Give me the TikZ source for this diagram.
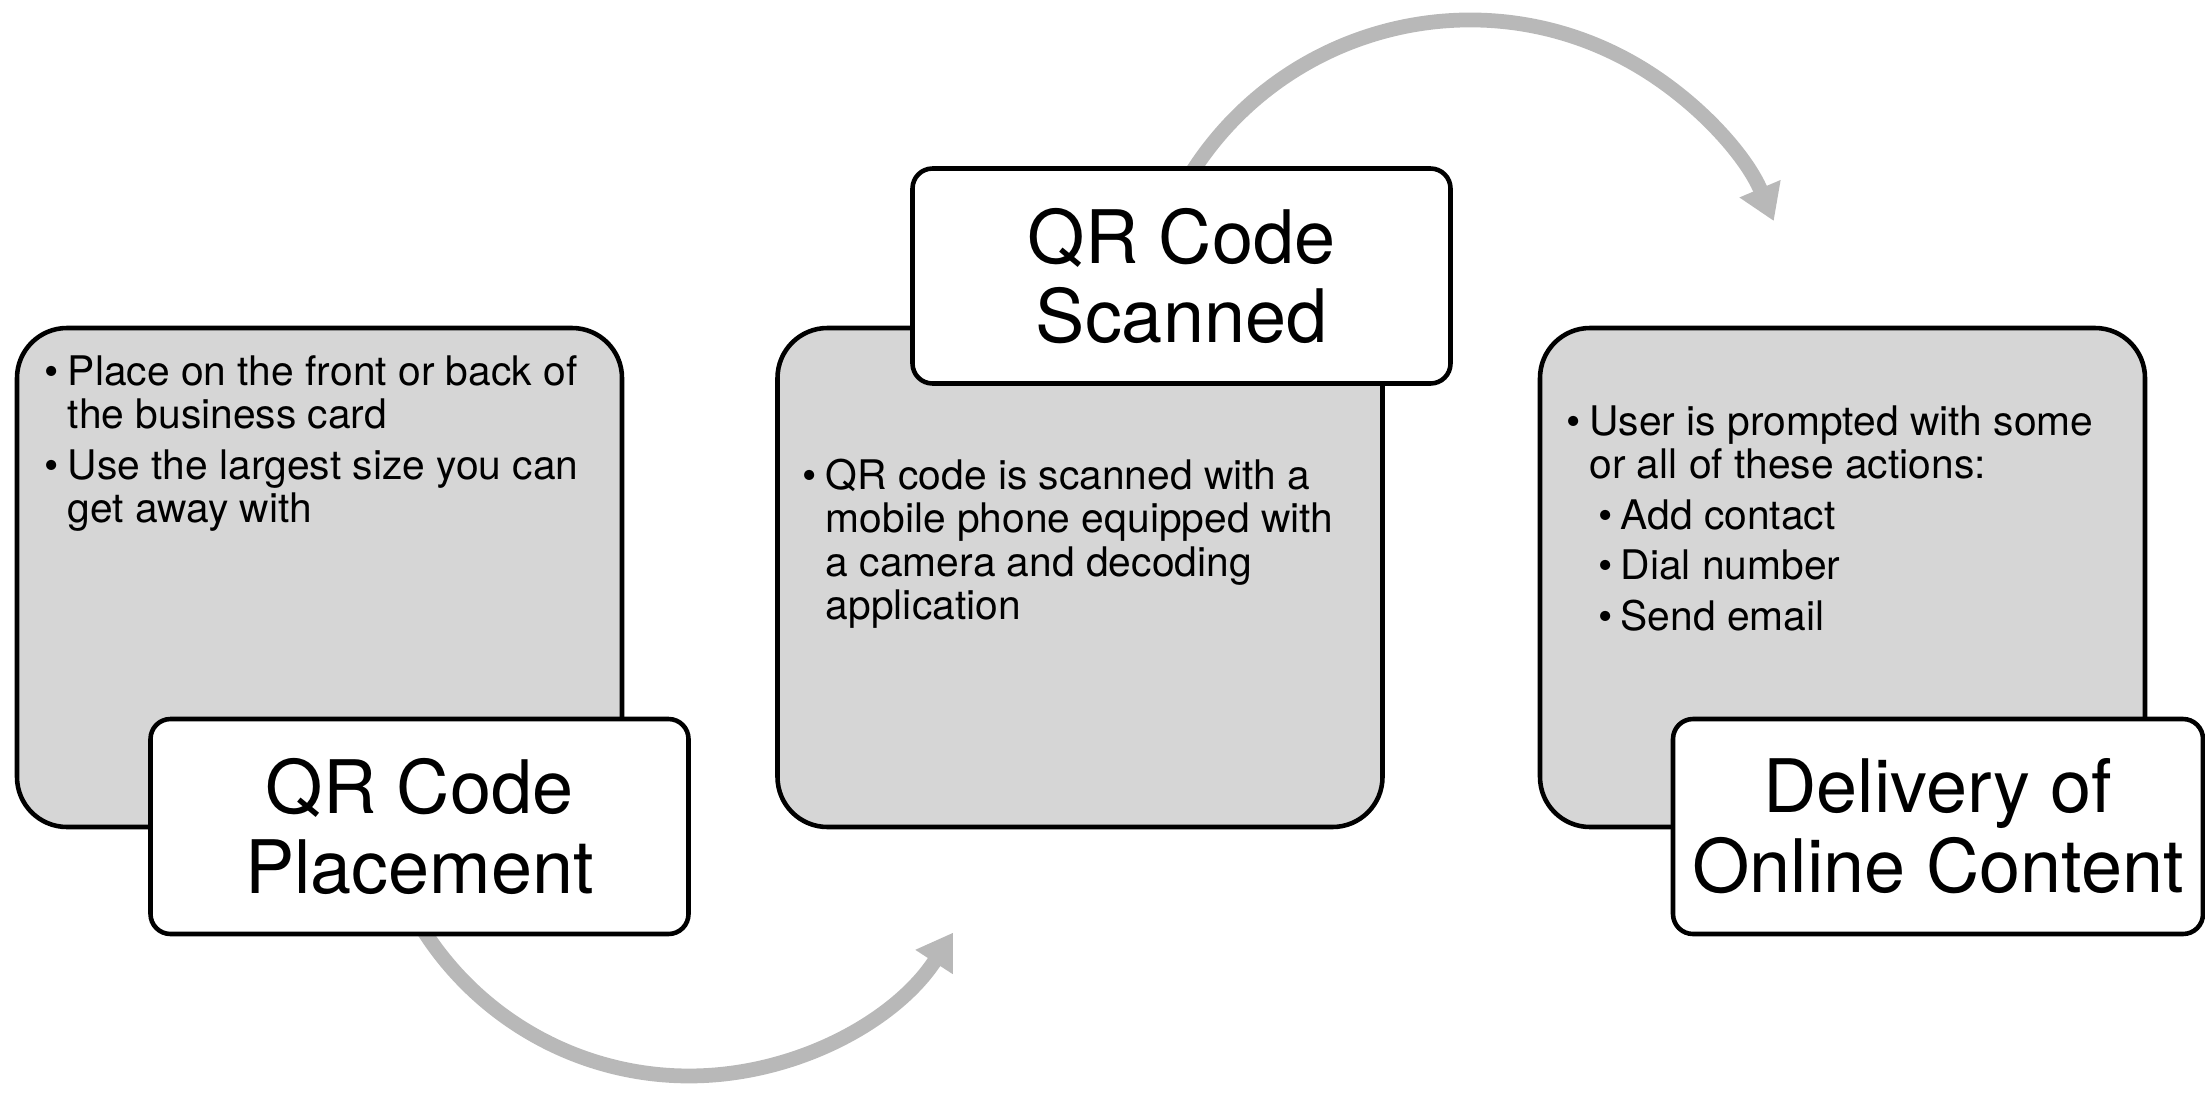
\documentclass[tikz,border=0pt]{standalone}
\usepackage{fontspec}
\setmainfont{TeX Gyre Heros}
\usetikzlibrary{arrows.meta}
\definecolor{boxgray}{HTML}{D6D6D6}
\definecolor{arrowgray}{HTML}{B8B8B8}
\newlength\bhang \setlength\bhang{6.6pt}
\newcommand\bpara[1]{\par\hangindent=\bhang\hangafter=1\noindent\makebox[\bhang][l]{\textbullet}#1\par}
\newcommand\bsubpara[1]{\par\hangindent=15.5pt\hangafter=1\noindent\hspace*{9.2pt}\makebox[6.3pt][l]{\textbullet}#1\par}
\newcommand\bodytext[1]{\begin{minipage}[t]{190pt}\raggedright\setlength\parskip{2pt}#1\end{minipage}}
\tikzset{
  graybox/.style={draw, line width=1.3pt, fill=boxgray, rounded corners=0.5cm, minimum width=6.05cm, minimum height=4.99cm, inner sep=0pt},
  labelbox/.style={draw, line width=1.3pt, fill=white, rounded corners=0.2cm, minimum width=5.38cm, minimum height=2.15cm, inner sep=0pt, align=center, font=\fontsize{21}{22.7}\selectfont},
  bodynode/.style={anchor=base west, inner sep=0pt, font=\fontsize{11.6}{12.4}\selectfont},
  flowarrow/.style={draw=arrowgray, line width=4.2pt, -{Triangle[width=12pt,length=10pt]}}
}
\begin{document}
\begin{tikzpicture}
\useasboundingbox (0,0) rectangle (22.05,-10.94);
% arrows (behind)
\coordinate (a1s) at (4.219,-9.279);
\coordinate (a2s) at (11.842,-1.85);
\draw[flowarrow] (a1s) arc[start angle=212, end angle=327, radius=3.15];
\draw[flowarrow] (a2s) arc[start angle=150, end angle=23, radius=3.30];
% gray boxes
\node[graybox] (g1) at (3.195,-5.775) {};
\node[graybox] (g2) at (10.80,-5.775) {};
\node[graybox] (g3) at (18.425,-5.775) {};
% body texts
\node[bodynode] (t1) at (0.44,-3.85) {\bodytext{%
\bpara{Place on the front or back of\newline the business card}%
\bpara{Use the largest size you can\newline get away with}}};
\node[bodynode] (t2) at (8.02,-4.89) {\bodytext{%
\bpara{QR code is scanned with a\newline mobile phone equipped with\newline a camera and decoding\newline application}}};
\node[bodynode] (t3) at (15.655,-4.35) {\bodytext{%
\bpara{User is prompted with some\newline or all of these actions:}%
\bsubpara{Add contact}%
\bsubpara{Dial number}%
\bsubpara{Send email}}};
% labels
\node[labelbox] (l1) at (4.195,-8.265) {QR Code\\Placement};
\node[labelbox] (l2) at (11.815,-2.76) {QR Code\\Scanned};
\node[labelbox, minimum width=5.30cm] (l3) at (19.38,-8.265) {Delivery of\\Online Content};
\end{tikzpicture}
\end{document}
